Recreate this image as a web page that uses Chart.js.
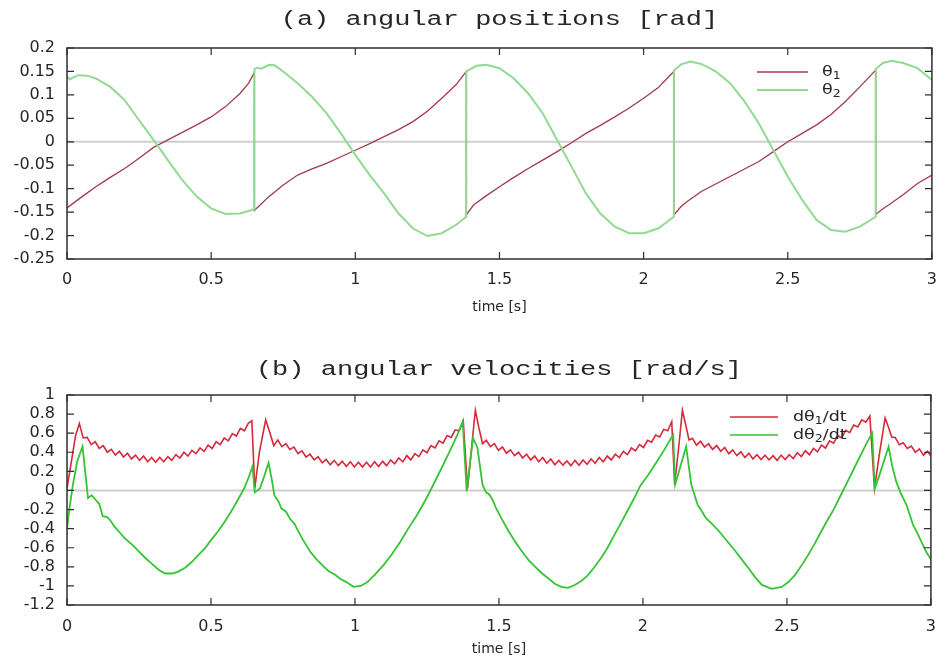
<!DOCTYPE html>
<html>
<head>
<meta charset="utf-8">
<title>Angular positions and velocities</title>
<script src="https://cdn.jsdelivr.net/npm/chart.js@4.4.1/dist/chart.umd.min.js"></script>
<style>
    html, body { margin: 0; padding: 0; background: #fff; }
    #wrap { position: relative; width: 948px; height: 667px; }
    .panel { position: absolute; left: 0; width: 948px; }
    #top { top: 0; height: 333px; }
    #bottom { top: 333px; height: 334px; }
</style>
</head>
<body>
<div id="wrap">
    <div class="panel" id="top"><canvas id="posChart"></canvas></div>
    <div class="panel" id="bottom"><canvas id="velChart"></canvas></div>
</div>
<script>
// Two-link walker: leg angles and angular rates over 3 s
// Each heel strike appears twice in the time arrays (before / after the switch)

const timeTicks = [0, 0.5, 1, 1.5, 2, 2.5, 3];
const posTicks = [-0.25, -0.2, -0.15, -0.1, -0.05, 0, 0.05, 0.1, 0.15, 0.2];
const velTicks = [-1.2, -1, -0.8, -0.6, -0.4, -0.2, 0, 0.2, 0.4, 0.6, 0.8, 1];

// theta1 [rad]
const posTime1 = [
    0, 0.05, 0.1, 0.15, 0.2, 0.25, 0.3, 0.35, 0.4, 0.45, 0.5, 0.55, 0.6, 0.63, 0.65,
    0.65, 0.67, 0.7, 0.75, 0.8, 0.85, 0.9, 0.95, 1.0, 1.05, 1.1, 1.15, 1.2, 1.25, 1.3, 1.35, 1.385,
    1.385, 1.41, 1.45, 1.5, 1.55, 1.6, 1.65, 1.7, 1.75, 1.8, 1.85, 1.9, 1.95, 2.0, 2.05, 2.105,
    2.105, 2.13, 2.15, 2.2, 2.25, 2.3, 2.35, 2.4, 2.45, 2.5, 2.55, 2.6, 2.65, 2.7, 2.75, 2.805,
    2.805, 2.83, 2.85, 2.9, 2.95, 3.0
];
const theta1 = [
    -0.141, -0.118, -0.096, -0.076, -0.057, -0.035, -0.012, 0.004, 0.020, 0.036, 0.053, 0.075, 0.103, 0.125, 0.148,
    -0.146, -0.135, -0.117, -0.092, -0.071, -0.058, -0.046, -0.032, -0.018, -0.004, 0.011, 0.026, 0.043, 0.065, 0.093, 0.122, 0.150,
    -0.156, -0.135, -0.117, -0.096, -0.076, -0.057, -0.039, -0.021, -0.002, 0.018, 0.035, 0.053, 0.072, 0.093, 0.115, 0.150,
    -0.156, -0.138, -0.128, -0.106, -0.090, -0.074, -0.058, -0.042, -0.021, 0.000, 0.018, 0.036, 0.058, 0.086, 0.117, 0.153,
    -0.155, -0.143, -0.135, -0.113, -0.089, -0.071
];

// theta2 [rad]
const posTime2 = [
    0, 0.01, 0.02, 0.04, 0.07, 0.1, 0.15, 0.2, 0.25, 0.3, 0.35, 0.4, 0.45, 0.5, 0.55, 0.6, 0.65,
    0.65, 0.66, 0.675, 0.7, 0.72, 0.75, 0.8, 0.85, 0.9, 0.95, 1.0, 1.05, 1.1, 1.15, 1.2, 1.25, 1.3, 1.35, 1.385,
    1.385, 1.42, 1.454, 1.5, 1.55, 1.6, 1.65, 1.7, 1.75, 1.8, 1.85, 1.9, 1.95, 2.0, 2.05, 2.105,
    2.105, 2.13, 2.162, 2.2, 2.25, 2.3, 2.35, 2.4, 2.45, 2.5, 2.55, 2.6, 2.65, 2.7, 2.75, 2.805,
    2.805, 2.83, 2.86, 2.9, 2.95, 3.0
];
const theta2 = [
    0.140, 0.133, 0.137, 0.142, 0.141, 0.135, 0.117, 0.089, 0.046, 0.004, -0.039, -0.082, -0.117, -0.142, -0.154, -0.153, -0.144,
    0.155, 0.158, 0.156, 0.164, 0.163, 0.150, 0.125, 0.096, 0.061, 0.018, -0.028, -0.071, -0.110, -0.153, -0.185, -0.201, -0.195, -0.177, -0.160,
    0.150, 0.162, 0.164, 0.157, 0.135, 0.103, 0.061, 0.004, -0.053, -0.110, -0.153, -0.181, -0.195, -0.195, -0.185, -0.160,
    0.152, 0.165, 0.171, 0.166, 0.150, 0.125, 0.086, 0.039, -0.018, -0.074, -0.124, -0.167, -0.188, -0.192, -0.181, -0.160,
    0.155, 0.168, 0.173, 0.168, 0.157, 0.132
];

// dtheta1/dt [rad/s] - the ripple is part of the signal
const velTime1 = [
    0, 0.015, 0.03, 0.043, 0.056,
    0.070, 0.084, 0.098, 0.112, 0.126, 0.140, 0.154, 0.168, 0.182, 0.196,
    0.210, 0.224, 0.238, 0.252, 0.266, 0.280, 0.294, 0.308, 0.322, 0.336,
    0.350, 0.364, 0.378, 0.392, 0.406, 0.420, 0.434, 0.448, 0.462, 0.476,
    0.490, 0.504, 0.518, 0.532, 0.546, 0.560, 0.574, 0.588, 0.602, 0.616,
    0.630, 0.642,
    0.652, 0.668, 0.690, 0.705, 0.718,
    0.732, 0.746, 0.760, 0.774, 0.788, 0.802, 0.816, 0.830, 0.844, 0.858,
    0.872, 0.886, 0.900, 0.914, 0.928, 0.942, 0.956, 0.970, 0.984, 0.998,
    1.012, 1.026, 1.040, 1.054, 1.068, 1.082, 1.096, 1.110, 1.124, 1.138,
    1.152, 1.166, 1.180, 1.194, 1.208, 1.222, 1.236, 1.250, 1.264, 1.278,
    1.292, 1.306, 1.320, 1.334, 1.348, 1.362, 1.376,
    1.391, 1.405, 1.418, 1.430, 1.443,
    1.456, 1.470, 1.484, 1.498, 1.512, 1.526, 1.540, 1.554, 1.568, 1.582,
    1.596, 1.610, 1.624, 1.638, 1.652, 1.666, 1.680, 1.694, 1.708, 1.722,
    1.736, 1.750, 1.764, 1.778, 1.792, 1.806, 1.820, 1.834, 1.848, 1.862,
    1.876, 1.890, 1.904, 1.918, 1.932, 1.946, 1.960, 1.974, 1.988, 2.002,
    2.016, 2.030, 2.044, 2.058, 2.072, 2.086, 2.100,
    2.110, 2.124, 2.137, 2.149, 2.160,
    2.172, 2.186, 2.200, 2.214, 2.228, 2.242, 2.256, 2.270, 2.284, 2.298,
    2.312, 2.326, 2.340, 2.354, 2.368, 2.382, 2.396, 2.410, 2.424, 2.438,
    2.452, 2.466, 2.480, 2.494, 2.508, 2.522, 2.536, 2.550, 2.564, 2.578,
    2.592, 2.606, 2.620, 2.634, 2.648, 2.662, 2.676, 2.690, 2.704, 2.718,
    2.732, 2.746, 2.760, 2.774, 2.788,
    2.804, 2.822, 2.841, 2.853, 2.864,
    2.876, 2.890, 2.904, 2.918, 2.932, 2.946, 2.960, 2.974, 2.988, 3.000
];
const dtheta1 = [
    0.02, 0.30, 0.58, 0.70, 0.55,
    0.555, 0.48, 0.51, 0.44, 0.47, 0.40, 0.43, 0.37, 0.41, 0.35,
    0.39, 0.33, 0.37, 0.315, 0.36, 0.30, 0.345, 0.295, 0.345, 0.30,
    0.355, 0.315, 0.375, 0.34, 0.40, 0.36, 0.42, 0.385, 0.445, 0.41,
    0.475, 0.44, 0.51, 0.48, 0.55, 0.52, 0.595, 0.57, 0.65, 0.625,
    0.705, 0.73,
    0.02, 0.40, 0.74, 0.60, 0.47,
    0.53, 0.46, 0.49, 0.43, 0.455, 0.385, 0.415, 0.35, 0.38, 0.32,
    0.355, 0.29, 0.325, 0.27, 0.315, 0.26, 0.305, 0.25, 0.30, 0.245,
    0.295, 0.245, 0.295, 0.245, 0.30, 0.25, 0.305, 0.26, 0.32, 0.28,
    0.34, 0.30, 0.365, 0.32, 0.385, 0.355, 0.425, 0.395, 0.47, 0.445,
    0.52, 0.495, 0.575, 0.555, 0.635, 0.625, 0.73,
    0.02, 0.45, 0.84, 0.66, 0.49,
    0.525, 0.46, 0.49, 0.42, 0.455, 0.39, 0.425, 0.365, 0.40, 0.34,
    0.38, 0.32, 0.36, 0.30, 0.345, 0.285, 0.33, 0.27, 0.315, 0.265,
    0.31, 0.26, 0.315, 0.265, 0.32, 0.275, 0.33, 0.285, 0.345, 0.30,
    0.36, 0.32, 0.38, 0.345, 0.41, 0.375, 0.445, 0.415, 0.48, 0.45,
    0.525, 0.505, 0.58, 0.56, 0.64, 0.625, 0.72,
    0.06, 0.45, 0.84, 0.68, 0.53,
    0.545, 0.475, 0.515, 0.455, 0.49, 0.43, 0.47, 0.41, 0.45, 0.385,
    0.425, 0.365, 0.405, 0.345, 0.39, 0.33, 0.375, 0.325, 0.37, 0.32,
    0.365, 0.315, 0.37, 0.325, 0.375, 0.335, 0.395, 0.355, 0.415, 0.375,
    0.44, 0.405, 0.475, 0.445, 0.52, 0.495, 0.575, 0.55, 0.63, 0.605,
    0.685, 0.665, 0.74, 0.715, 0.78,
    0.02, 0.40, 0.76, 0.66, 0.56,
    0.555, 0.48, 0.50, 0.44, 0.465, 0.40, 0.435, 0.37, 0.41, 0.36
];

// dtheta2/dt [rad/s]
const velTime2 = [
    0, 0.008, 0.02, 0.035, 0.054, 0.063, 0.073, 0.085, 0.1, 0.112,
    0.124, 0.14, 0.152, 0.165, 0.18, 0.2, 0.227, 0.25, 0.273, 0.295,
    0.318, 0.341, 0.365, 0.387, 0.41, 0.433, 0.455, 0.478, 0.5, 0.524,
    0.547, 0.57, 0.593, 0.615, 0.63, 0.644,
    0.652, 0.67, 0.685, 0.70, 0.712, 0.72, 0.735, 0.745, 0.76, 0.775,
    0.79, 0.80, 0.82, 0.844, 0.866, 0.889, 0.91, 0.93, 0.946, 0.97,
    0.995, 1.02, 1.043, 1.07, 1.10, 1.13, 1.157, 1.185, 1.215, 1.245,
    1.272, 1.30, 1.329, 1.355, 1.374,
    1.388, 1.40, 1.41, 1.425, 1.443, 1.455, 1.466, 1.478, 1.489, 1.51,
    1.534, 1.557, 1.58, 1.603, 1.626, 1.65, 1.671, 1.695, 1.717, 1.74,
    1.763, 1.786, 1.808, 1.83, 1.854, 1.877, 1.90, 1.922, 1.945, 1.968,
    1.991, 2.02, 2.048, 2.075, 2.094, 2.105,
    2.112, 2.13, 2.15, 2.168, 2.19, 2.205, 2.219, 2.24, 2.265, 2.295,
    2.322, 2.345, 2.368, 2.39, 2.413, 2.447, 2.482, 2.505, 2.527, 2.55,
    2.573, 2.596, 2.619, 2.641, 2.664, 2.687, 2.71, 2.733, 2.756, 2.776,
    2.796,
    2.805, 2.82, 2.836, 2.853, 2.866, 2.88, 2.897, 2.915, 2.926, 2.938,
    2.955, 2.972, 2.985, 3.0
];
const dtheta2 = [
    -0.40, -0.20, 0.05, 0.30, 0.46, 0.20, -0.08, -0.05, -0.10, -0.14,
    -0.27, -0.28, -0.32, -0.38, -0.43, -0.50, -0.57, -0.64, -0.71, -0.77,
    -0.83, -0.87, -0.87, -0.85, -0.81, -0.75, -0.68, -0.61, -0.52, -0.43,
    -0.33, -0.22, -0.10, 0.02, 0.13, 0.25,
    -0.02, 0.02, 0.15, 0.29, 0.10, -0.05, -0.12, -0.19, -0.22, -0.30,
    -0.35, -0.41, -0.52, -0.64, -0.72, -0.79, -0.85, -0.88, -0.92, -0.96,
    -1.01, -1.00, -0.96, -0.88, -0.78, -0.66, -0.54, -0.40, -0.26, -0.10,
    0.06, 0.23, 0.41, 0.58, 0.72,
    -0.01, 0.30, 0.55, 0.45, 0.06, -0.02, -0.04, -0.10, -0.18, -0.30,
    -0.43, -0.54, -0.64, -0.73, -0.80, -0.87, -0.92, -0.98, -1.01, -1.02,
    -0.99, -0.95, -0.89, -0.81, -0.71, -0.60, -0.47, -0.35, -0.22, -0.09,
    0.05, 0.17, 0.30, 0.43, 0.53, 0.58,
    0.06, 0.25, 0.46, 0.06, -0.15, -0.22, -0.29, -0.35, -0.43, -0.54,
    -0.64, -0.73, -0.82, -0.91, -0.99, -1.03, -1.01, -0.96, -0.89, -0.79,
    -0.68, -0.56, -0.43, -0.31, -0.19, -0.05, 0.09, 0.23, 0.37, 0.49,
    0.60,
    0.02, 0.15, 0.30, 0.46, 0.25, 0.09, -0.04, -0.15, -0.25, -0.36,
    -0.46, -0.57, -0.65, -0.72
];

const COLORS = {
    theta1: '#a23a4c',
    theta2: '#92da92',
    rate1: '#d8283c',
    rate2: '#35c435',
    zero: '#cfcfcf',
    frame: '#2e2e2e',
    text: '#262626'
};
const SANS = '"DejaVu Sans", sans-serif';
const MONO = '"Liberation Mono", "DejaVu Sans Mono", monospace';
const TICK_LEN = 7;

Chart.defaults.animation = false;
Chart.defaults.events = [];
Chart.defaults.color = COLORS.text;

// pair up time and value arrays for a linear x axis
function pts(xs, ys) {
    return xs.map((x, i) => ({ x: x, y: ys[i] }));
}

// text drawn with a horizontal stretch, returns advance width
function stretchText(ctx, text, x, y, sx) {
    ctx.save();
    ctx.translate(x, y);
    ctx.scale(sx, 1);
    ctx.fillText(text, 0, 0);
    ctx.restore();
    return ctx.measureText(text).width * sx;
}

// zero line, box border and inward ticks on all four sides
const framePlugin = {
    id: 'frame',
    beforeDatasetsDraw(chart) {
        const { ctx, chartArea: a, scales: { y } } = chart;
        const y0 = y.getPixelForValue(0);
        ctx.save();
        ctx.strokeStyle = COLORS.zero;
        ctx.lineWidth = 2;
        ctx.beginPath();
        ctx.moveTo(a.left, y0);
        ctx.lineTo(a.right, y0);
        ctx.stroke();
        ctx.restore();
    },
    afterDatasetsDraw(chart) {
        const { ctx, chartArea: a, scales: { x, y } } = chart;
        ctx.save();
        ctx.strokeStyle = COLORS.frame;
        ctx.lineWidth = 1.5;
        ctx.strokeRect(a.left, a.top, a.right - a.left, a.bottom - a.top);
        ctx.lineWidth = 1.2;
        ctx.beginPath();
        x.ticks.forEach(t => {
            const px = x.getPixelForValue(t.value);
            ctx.moveTo(px, a.bottom);
            ctx.lineTo(px, a.bottom - TICK_LEN);
            ctx.moveTo(px, a.top);
            ctx.lineTo(px, a.top + TICK_LEN);
        });
        y.ticks.forEach(t => {
            const py = y.getPixelForValue(t.value);
            ctx.moveTo(a.left, py);
            ctx.lineTo(a.left + TICK_LEN, py);
            ctx.moveTo(a.right, py);
            ctx.lineTo(a.right - TICK_LEN, py);
        });
        ctx.stroke();
        ctx.restore();
    }
};

// panel title and key (the key needs subscripts, so it is drawn by hand)
const panelTextPlugin = {
    id: 'panelText',
    afterDraw(chart, args, opts) {
        const { ctx, chartArea: a } = chart;
        ctx.save();
        ctx.fillStyle = COLORS.text;
        ctx.textBaseline = 'middle';

        ctx.font = '20px ' + MONO;
        ctx.textAlign = 'left';
        const w = ctx.measureText(opts.title).width * opts.titleStretch;
        stretchText(ctx, opts.title, (a.left + a.right) / 2 - w / 2, opts.titleY, opts.titleStretch);

        opts.keys.forEach(k => {
            ctx.strokeStyle = k.color;
            ctx.lineWidth = k.width;
            ctx.beginPath();
            ctx.moveTo(opts.sampleX[0], k.y);
            ctx.lineTo(opts.sampleX[1], k.y);
            ctx.stroke();

            let x = opts.textX;
            ctx.font = '14px ' + SANS;
            x += stretchText(ctx, k.pre, x, k.y, 1.25);
            ctx.font = '10px ' + SANS;
            x += stretchText(ctx, k.sub, x, k.y + 4, 1.25);
            if (k.post) {
                ctx.font = '14px ' + SANS;
                stretchText(ctx, k.post, x, k.y, 1.25);
            }
        });
        ctx.restore();
    }
};

function timeAxis(boxHeight, labelGap, titleGap) {
    return {
        type: 'linear',
        min: 0,
        max: 3,
        afterBuildTicks: s => { s.ticks = timeTicks.map(v => ({ value: v })); },
        afterFit: s => { s.height = boxHeight; },
        grid: { display: false, drawTicks: false },
        border: { display: false },
        ticks: {
            padding: labelGap,
            color: COLORS.text,
            font: { family: SANS, size: 16 },
            maxRotation: 0,
            autoSkip: false,
            callback: v => String(v)
        },
        title: {
            display: true,
            text: 'time [s]',
            color: COLORS.text,
            font: { family: SANS, size: 14 },
            padding: { top: 0, bottom: titleGap }
        }
    };
}

function valueAxis(min, max, tickList) {
    return {
        type: 'linear',
        min: min,
        max: max,
        afterBuildTicks: s => { s.ticks = tickList.map(v => ({ value: v })); },
        afterFit: s => { s.width = 67; },
        grid: { display: false, drawTicks: false },
        border: { display: false },
        ticks: {
            padding: 12,
            color: COLORS.text,
            font: { family: SANS, size: 16 },
            autoSkip: false,
            callback: v => String(v)
        }
    };
}

function lineSet(label, data, color, width, order) {
    return {
        label: label,
        data: data,
        borderColor: color,
        borderWidth: width,
        pointRadius: 0,
        tension: 0,
        fill: false,
        order: order
    };
}

// (a) angular positions
function initPositionChart() {
    new Chart(document.getElementById('posChart'), {
        type: 'line',
        data: {
            datasets: [
                lineSet('θ1', pts(posTime1, theta1), COLORS.theta1, 1.3, 1),
                lineSet('θ2', pts(posTime2, theta2), COLORS.theta2, 2, 0)
            ]
        },
        options: {
            responsive: true,
            maintainAspectRatio: false,
            layout: { padding: { top: 48, right: 6, bottom: 0, left: 0 } },
            scales: {
                x: timeAxis(74, 11, 17),
                y: valueAxis(-0.25, 0.2, posTicks)
            },
            plugins: {
                legend: { display: false },
                tooltip: { enabled: false },
                panelText: {
                    title: '(a) angular positions [rad]',
                    titleY: 20,
                    titleStretch: 1.35,
                    sampleX: [757, 808],
                    textX: 822,
                    keys: [
                        { pre: 'θ', sub: '1', color: COLORS.theta1, width: 1.3, y: 72 },
                        { pre: 'θ', sub: '2', color: COLORS.theta2, width: 2, y: 90 }
                    ]
                }
            }
        },
        plugins: [framePlugin, panelTextPlugin]
    });
}

// (b) angular velocities
function initVelocityChart() {
    new Chart(document.getElementById('velChart'), {
        type: 'line',
        data: {
            datasets: [
                lineSet('dθ1/dt', pts(velTime1, dtheta1), COLORS.rate1, 1.6, 1),
                lineSet('dθ2/dt', pts(velTime2, dtheta2), COLORS.rate2, 1.8, 0)
            ]
        },
        options: {
            responsive: true,
            maintainAspectRatio: false,
            layout: { padding: { top: 62, right: 6, bottom: 0, left: 0 } },
            scales: {
                x: timeAxis(62, 12, 9),
                y: valueAxis(-1.2, 1, velTicks)
            },
            plugins: {
                legend: { display: false },
                tooltip: { enabled: false },
                panelText: {
                    title: '(b) angular velocities [rad/s]',
                    titleY: 37,
                    titleStretch: 1.35,
                    sampleX: [730, 778],
                    textX: 793,
                    keys: [
                        { pre: 'dθ', sub: '1', post: '/dt', color: COLORS.rate1, width: 1.3, y: 84 },
                        { pre: 'dθ', sub: '2', post: '/dt', color: COLORS.rate2, width: 1.3, y: 102 }
                    ]
                }
            }
        },
        plugins: [framePlugin, panelTextPlugin]
    });
}

initPositionChart();
initVelocityChart();
</script>
</body>
</html>
